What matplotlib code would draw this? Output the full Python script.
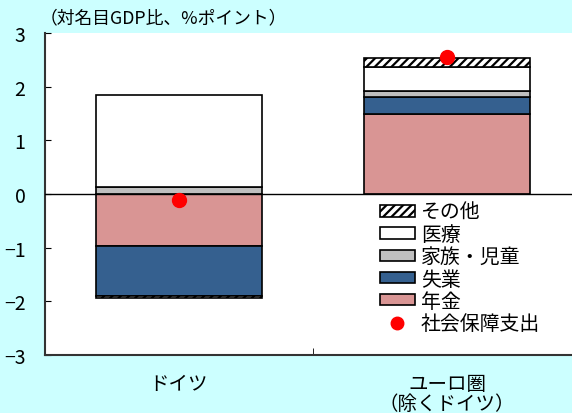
import matplotlib
matplotlib.use("Agg")
import matplotlib.pyplot as plt
from matplotlib.patches import Patch
from matplotlib.lines import Line2D
import numpy as np

plt.rcParams['font.family'] = ['Noto Sans CJK JP', 'DejaVu Sans']
plt.rcParams['hatch.linewidth'] = 1.6
plt.rcParams['axes.unicode_minus'] = True

categories = ["ドイツ", "ユーロ圏\n（除くドイツ）"]
series_names = ["年金", "失業", "家族・児童", "医療", "その他"]
pension = [-0.96, 1.49]
unemployment = [-0.94, 0.32]
family = [0.13, 0.10]
health = [1.71, 0.45]
other = [-0.04, 0.18]
total = [-0.12, 2.55]
total_name = "社会保障支出"
title = "（対名目GDP比、%ポイント）"
yticks = [-3, -2, -1, 0, 1, 2, 3]

colors = ["#D99594", "#35608F", "#BFBFBF", "#FFFFFF", "#FFFFFF"]
hatches = [None, None, None, None, "////"]
series = [pension, unemployment, family, health, other]

W, H = 572, 414
fig = plt.figure(figsize=(W / 100, H / 100), dpi=100)
fig.patch.set_facecolor("#CCFFFF")
ax = fig.add_axes([45 / W, (H - 356) / H, 536 / W, (356 - 34) / H])
ax.set_facecolor("white")

x = np.arange(len(categories))
bw = 0.62
pos_base = np.zeros(len(categories))
neg_base = np.zeros(len(categories))
for vals, c, h in zip(series, colors, hatches):
    vals = np.array(vals)
    base = np.where(vals >= 0, pos_base, neg_base)
    ax.bar(x, vals, bw, bottom=base, color=c, edgecolor="black", linewidth=1.2,
           hatch=h, zorder=2)
    pos_base = pos_base + np.where(vals >= 0, vals, 0)
    neg_base = neg_base + np.where(vals < 0, vals, 0)

ax.plot(x, total, "o", color="red", markersize=10, zorder=4)
ax.axhline(0, color="black", linewidth=1.0, zorder=3)

ax.set_xlim(-0.5, 1.5)
ax.set_ylim(-3, 3)
ax.set_yticks(yticks)
ax.tick_params(axis="y", direction="in", length=4, pad=14, labelsize=14)
ax.set_xticks(x, labels=categories)
ax.set_xticks([0.5], minor=True)
ax.tick_params(axis="x", which="major", length=0, pad=13, labelsize=14)
ax.tick_params(axis="x", which="minor", direction="in", length=5)
for lbl in ax.get_xticklabels():
    lbl.set_linespacing(0.95)
for s in ["top", "right"]:
    ax.spines[s].set_visible(False)
for s in ["left", "bottom"]:
    ax.spines[s].set_linewidth(1.5)
    ax.spines[s].set_color("#333333")

handles = []
for name, c, h in reversed(list(zip(series_names, colors, hatches))):
    handles.append(Patch(facecolor=c, edgecolor="black", hatch=h, linewidth=1.2, label=name))
handles.append(Line2D([], [], marker="o", color="red", linestyle="none", markersize=9, label=total_name))
leg = ax.legend(handles=handles, loc="upper left",
                bbox_to_anchor=(372 / W, (H - 195) / H), bbox_transform=fig.transFigure,
                frameon=False, fontsize=14.3, handlelength=1.75, handleheight=0.5,
                handletextpad=0.3, labelspacing=0.06, borderaxespad=0)

fig.text(40 / W, 1 - 18 / H, title, fontsize=12.8, va="center", ha="left")

fig.savefig("out.png", dpi=100, facecolor=fig.get_facecolor())
